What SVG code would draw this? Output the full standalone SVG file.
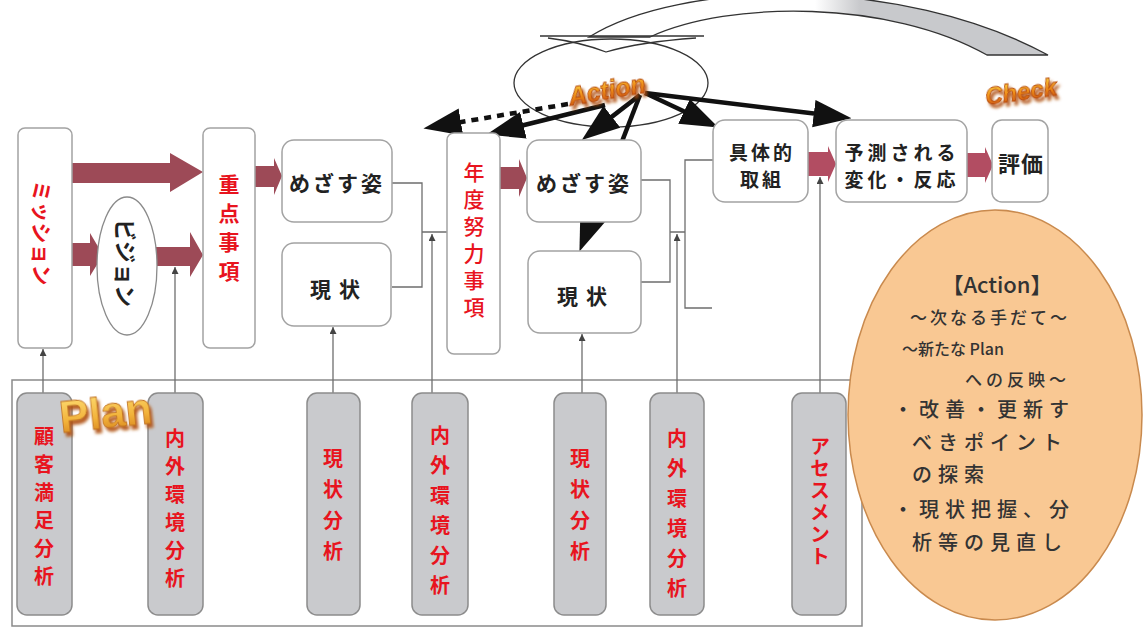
<svg xmlns="http://www.w3.org/2000/svg" width="1144" height="630" viewBox="0 0 1144 630">
<defs>
<style>
.box{fill:#fff;stroke:#a3a3a3;stroke-width:1.5}
.pill{fill:#c9cacd;stroke:#8c8c8c;stroke-width:1.5}
.fat{fill:#9d4a57}
.fat2{fill:#b24d62}
.thin{fill:none;stroke:#6e6e6e;stroke-width:1.3}
.blk{fill:none;stroke:#111;stroke-width:4.5}
.t{font-family:"Noto Sans CJK JP","Noto Sans",sans-serif;font-weight:700;fill:#222}
.rv{font-family:"Noto Sans CJK JP",sans-serif;font-weight:700;fill:#e8141e;writing-mode:vertical-rl;font-size:20px}
.o{font-family:"Noto Sans CJK JP","Noto Sans",sans-serif;fill:#333;font-weight:500}
.fl{font-family:"Liberation Sans",sans-serif;font-weight:700;font-style:italic;fill:url(#flame);stroke:#b5480c;stroke-width:0.8}
</style>
<linearGradient id="flame" x1="0" y1="0" x2="0" y2="1">
<stop offset="0" stop-color="#ffe04a"/><stop offset="0.5" stop-color="#f0901a"/><stop offset="1" stop-color="#c2440c"/>
</linearGradient>
<linearGradient id="gold" x1="0" y1="0" x2="0" y2="1">
<stop offset="0" stop-color="#ffe27a"/><stop offset="0.6" stop-color="#f2b23a"/><stop offset="1" stop-color="#d07a18"/>
</linearGradient>
<linearGradient id="band" gradientUnits="userSpaceOnUse" x1="815" y1="0" x2="860" y2="0">
<stop offset="0" stop-color="#ffffff"/><stop offset="1" stop-color="#c8c9cc"/>
</linearGradient>
<filter id="sh" x="-20%" y="-20%" width="160%" height="180%">
<feDropShadow dx="2" dy="4" stdDeviation="1.5" flood-color="#b0500e" flood-opacity="0.9"/>
</filter>
<marker id="big" markerUnits="userSpaceOnUse" markerWidth="38" markerHeight="28" viewBox="0 0 36 26" refX="8" refY="13" orient="auto">
<path d="M0,0 L36,13 L0,26 z" fill="#111"/>
</marker>
<marker id="sm" markerUnits="userSpaceOnUse" markerWidth="7" markerHeight="7" viewBox="0 0 8 8" refX="8" refY="4" orient="auto">
<path d="M0,0 L8,4 L0,8 z" fill="#444"/>
</marker>
</defs>
<rect width="1144" height="630" fill="#fff"/>

<g id="cycle">
<path d="M589,37 C680,-20 900,-25 1048,55 L987,55 C890,0 730,0 650,37 Z" fill="url(#band)" stroke="#333" stroke-width="1.3"/>
<ellipse cx="611" cy="83" rx="97" ry="44" fill="none" stroke="#333" stroke-width="1.3"/>
<path d="M540,36 L704,36" stroke="#333" stroke-width="1.3" fill="none"/>
<path d="M548,38 Q580,42 606,52 Q640,42 696,38" stroke="#333" stroke-width="1.3" fill="none"/>
</g>

<g id="panel">
<rect x="12" y="380" width="850" height="246" fill="none" stroke="#8a8a8a" stroke-width="1.5"/>
</g>

<g id="connectors">
<polygon class="fat" points="72,163 170,163 170,153 203,172 170,192 170,183 72,183"/>
<polygon class="fat" points="72,243 90,243 90,233 103,255 90,276 90,266 72,266"/>
<polygon class="fat" points="155,247 190,247 190,232 203,255 190,277 190,266 155,266"/>
<polygon class="fat" points="255,166 274,166 274,158 282,176 274,195 274,187 255,187"/>
<polygon class="fat" points="500,167 519,167 519,159 527,178 519,197 519,189 500,189"/>
<polygon class="fat2" points="808,152 828,152 828,146 836,164 828,182 828,176 808,176"/>
<polygon class="fat2" points="967,153 985,153 985,147 993,165 985,183 985,177 967,177"/>

<path class="thin" d="M392,183 H422 V287 H392 M422,232 H447"/>
<path class="thin" d="M641,180 H670 V282 H641 M670,232 H685"/>
<path class="thin" d="M713,160 H685 V308 H712"/>

<line class="thin" x1="43" y1="393" x2="43" y2="349" marker-end="url(#sm)"/>
<line class="thin" x1="175" y1="393" x2="175" y2="267" marker-end="url(#sm)"/>
<line class="thin" x1="333" y1="393" x2="333" y2="327" marker-end="url(#sm)"/>
<line class="thin" x1="432" y1="393" x2="432" y2="234" marker-end="url(#sm)"/>
<line class="thin" x1="582" y1="393" x2="582" y2="334" marker-end="url(#sm)"/>
<line class="thin" x1="677" y1="393" x2="677" y2="234" marker-end="url(#sm)"/>
<line class="thin" x1="820" y1="393" x2="820" y2="177" marker-end="url(#sm)"/>

<line class="blk" x1="568" y1="104" x2="452.6" y2="123.5" stroke-dasharray="7 6" marker-end="url(#big)"/>
<line class="blk" x1="605" y1="105" x2="515.2" y2="127.3" marker-end="url(#big)"/>
<line class="blk" x1="640" y1="95" x2="605.2" y2="121.9" marker-end="url(#big)"/>
<line class="blk" x1="640" y1="95" x2="590.1" y2="223.9" marker-end="url(#big)"/>
<line class="blk" x1="645" y1="93" x2="691.7" y2="115" marker-end="url(#big)"/>
<line class="blk" x1="645" y1="93" x2="822.2" y2="114.6" marker-end="url(#big)"/>
</g>

<g id="mission">
<rect class="box" x="18" y="128" width="54" height="220" rx="7"/>
<text class="t" transform="translate(43,233) rotate(90)" text-anchor="middle" dominant-baseline="central" font-size="21" style="fill:#e8141e">ミッション</text>
</g>
<g id="vision">
<ellipse cx="127" cy="266" rx="30" ry="69" fill="#fff" stroke="#8a8a8a" stroke-width="1.3"/>
<text class="t" transform="translate(127,263) rotate(90)" text-anchor="middle" dominant-baseline="central" font-size="22">ビジョン</text>
</g>
<g id="juten">
<rect class="box" x="203" y="128" width="52" height="220" rx="7"/>
<text class="rv" x="229" y="232" text-anchor="middle" style="letter-spacing:8px;font-size:21px">重点事項</text>
</g>
<g id="mezasu1">
<rect class="box" x="282" y="140" width="110" height="82" rx="12"/>
<text class="t" x="337" y="191" text-anchor="middle" font-size="21" style="letter-spacing:3px">めざす姿</text>
</g>
<g id="genjo1">
<rect class="box" x="282" y="243" width="109" height="83" rx="12"/>
<text class="t" x="339" y="297" text-anchor="middle" font-size="21" style="letter-spacing:8px">現状</text>
</g>
<g id="nendo">
<rect class="box" x="447" y="133" width="53" height="221" rx="7"/>
<text class="rv" x="474" y="243" text-anchor="middle" style="letter-spacing:6px;font-size:21px;font-weight:500">年度努力事項</text>
</g>
<g id="mezasu2">
<rect class="box" x="527" y="140" width="114" height="82" rx="12"/>
<text class="t" x="584" y="191" text-anchor="middle" font-size="21" style="letter-spacing:3px">めざす姿</text>
</g>
<g id="genjo2">
<rect class="box" x="528" y="251" width="113" height="82" rx="12"/>
<text class="t" x="586" y="304" text-anchor="middle" font-size="21" style="letter-spacing:8px">現状</text>
</g>
<g id="gutai">
<rect class="box" x="713" y="120" width="95" height="82" rx="12"/>
<text class="t" x="762" y="160" text-anchor="middle" font-size="19" style="letter-spacing:3px">具体的</text>
<text class="t" x="762" y="187" text-anchor="middle" font-size="19" style="letter-spacing:3px">取組</text>
</g>
<g id="yosoku">
<rect class="box" x="836" y="120" width="131" height="82" rx="12"/>
<text class="t" x="902" y="160" text-anchor="middle" font-size="19" style="letter-spacing:4px">予測される</text>
<text class="t" x="902" y="187" text-anchor="middle" font-size="19" style="letter-spacing:4px">変化・反応</text>
</g>
<g id="hyoka">
<rect class="box" x="992" y="120" width="56" height="82" rx="10"/>
<text class="t" x="1021" y="172" text-anchor="middle" font-size="22" style="letter-spacing:1px">評価</text>
</g>

<g id="p1"><rect class="pill" x="17" y="393" width="55" height="222" rx="10"/>
<text class="rv" x="44" y="510" text-anchor="middle" style="letter-spacing:8px">顧客満足分析</text></g>
<g id="p2"><rect class="pill" x="148" y="393" width="55" height="222" rx="10"/>
<text class="rv" x="175" y="512" text-anchor="middle" style="letter-spacing:8px">内外環境分析</text></g>
<g id="p3"><rect class="pill" x="307" y="393" width="53" height="222" rx="10"/>
<text class="rv" x="333" y="510" text-anchor="middle" style="letter-spacing:11px">現状分析</text></g>
<g id="p4"><rect class="pill" x="412" y="393" width="56" height="222" rx="10"/>
<text class="rv" x="440" y="515" text-anchor="middle" style="letter-spacing:10px">内外環境分析</text></g>
<g id="p5"><rect class="pill" x="554" y="393" width="52" height="222" rx="10"/>
<text class="rv" x="580" y="510" text-anchor="middle" style="letter-spacing:11px">現状分析</text></g>
<g id="p6"><rect class="pill" x="650" y="393" width="54" height="222" rx="10"/>
<text class="rv" x="677" y="518" text-anchor="middle" style="letter-spacing:10px">内外環境分析</text></g>
<g id="p7"><rect class="pill" x="792" y="393" width="54" height="222" rx="10"/>
<text class="rv" x="820" y="502" text-anchor="middle" style="letter-spacing:2px">アセスメント</text></g>

<g id="action-note">
<ellipse cx="995" cy="415" rx="147" ry="205" fill="#f9c893" stroke="#c98a4e" stroke-width="1.5"/>
<text class="o" x="997" y="293" text-anchor="middle" font-size="22">【Action】</text>
<text class="o" x="990" y="324" text-anchor="middle" font-size="17" style="letter-spacing:3px">～次なる手だて～</text>
<text class="o" x="902" y="355" font-size="16">～新たな Plan</text>
<text class="o" x="965" y="386" font-size="17" style="letter-spacing:4px">への反映～</text>
<text class="o" x="893" y="417" font-size="20" style="letter-spacing:6px">・改善・更新す</text>
<text class="o" x="912" y="450" font-size="20" style="letter-spacing:6px">べきポイント</text>
<text class="o" x="912" y="482" font-size="20" style="letter-spacing:6px">の探索</text>
<text class="o" x="893" y="517" font-size="20" style="letter-spacing:6px">・現状把握、分</text>
<text class="o" x="912" y="550" font-size="20" style="letter-spacing:6px">析等の見直し</text>
</g>

<g id="labels">
<text class="fl" x="607" y="99" font-size="25" text-anchor="middle" transform="rotate(-10 607 90)" filter="url(#sh)">Action</text>
<text class="fl" x="1021" y="100" font-size="24" text-anchor="middle" transform="rotate(-8 1021 92)" filter="url(#sh)">Check</text>
<text x="106" y="428" font-size="44" text-anchor="middle" transform="rotate(-6 106 415)" font-family="Liberation Sans, sans-serif" font-weight="700" fill="url(#gold)" stroke="#c07020" stroke-width="0.8" filter="url(#sh)">Plan</text>
</g>
</svg>
